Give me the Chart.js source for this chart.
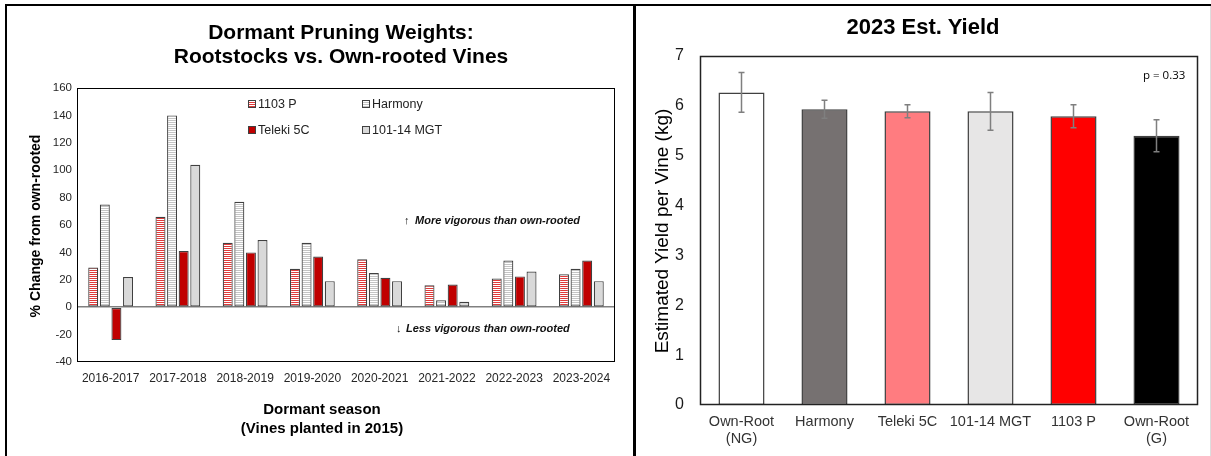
<!DOCTYPE html>
<html>
<head>
<meta charset="utf-8">
<script src="https://cdn.jsdelivr.net/npm/chart.js@4.4.0/dist/chart.umd.min.js"></script>
<style>
  body { margin: 0; background: #fff; font-family: 'Liberation Sans', Arial, sans-serif; }
  #wrap { position: relative; width: 1211px; height: 456px; overflow: hidden; background: #fff; }
  .abs { position: absolute; }
  .line { position: absolute; background: #000; }
  .ttl { position: absolute; text-align: center; font-weight: bold; color: #000; white-space: nowrap; }
  canvas { position: absolute; }
</style>
</head>
<body>
<div id="wrap">
  <div class="line" style="left:5px;top:4px;width:1206px;height:2px"></div>
  <div class="line" style="left:5px;top:4px;width:2px;height:452px"></div>
  <div class="line" style="left:633px;top:4px;width:3px;height:452px"></div>
  <div class="line" style="left:1210px;top:6px;width:1px;height:450px;background:#ddd"></div>

  <canvas id="left" width="626" height="450" style="left:7px;top:6px"></canvas>
  <canvas id="right" width="574" height="450" style="left:636px;top:6px"></canvas>

  <div class="ttl" style="left:141px;top:20px;width:400px;font-size:21px;line-height:24px">Dormant Pruning Weights:<br>Rootstocks vs. Own-rooted Vines</div>
  <div class="ttl" style="left:122px;top:399px;width:400px;font-size:15px;line-height:19px">Dormant season<br>(Vines planted in 2015)</div>
  <div class="ttl" style="left:-115px;top:216px;width:300px;font-size:14px;line-height:20px;transform:rotate(-90deg)">% Change from own-rooted</div>

  <div class="ttl" style="left:723px;top:15px;width:400px;font-size:22px;line-height:24px">2023 Est. Yield</div>
  <div class="ttl" style="left:512px;top:219px;width:300px;font-size:19px;line-height:24px;font-weight:normal;transform:rotate(-90deg)">Estimated Yield per Vine (kg)</div>
  <div class="abs" style="left:1143px;top:67px;font-family:'Open Sans',sans-serif;font-size:11.5px;color:#000">p = 0.33</div>
</div>

<script>
// pruning weights, % change from own-rooted
const seasons = ['2016-2017', '2017-2018', '2018-2019', '2019-2020', '2020-2021', '2021-2022', '2022-2023', '2023-2024'];
const p1103 = [29, 66, 47, 28, 35, 16, 21, 24];
const harmony = [75, 140, 77, 47, 25, 5, 34, 28];
const teleki = [-24, 41, 40, 37, 21.5, 16.5, 22.5, 34];
const mgt = [22, 104, 49, 19, 19, 4, 26, 19];

// 2023 yield
const yieldCats = [['Own-Root', '(NG)'], 'Harmony', 'Teleki 5C', '101-14 MGT', '1103 P', ['Own-Root', '(G)']];
const yieldMeans = [6.27, 5.93, 5.89, 5.89, 5.79, 5.40];
const yieldErr = [0.40, 0.18, 0.13, 0.38, 0.23, 0.32];

const FONT = "'Liberation Sans', Arial, sans-serif";
Chart.defaults.font.family = FONT;
Chart.defaults.animation = false;

var lctx = document.getElementById('left').getContext('2d');

function stripes(color, period) {
  var c = document.createElement('canvas');
  c.width = 4; c.height = period;
  var x = c.getContext('2d');
  x.fillStyle = '#fff'; x.fillRect(0, 0, 4, period);
  x.fillStyle = color; x.fillRect(0, 0, 4, 1);
  return lctx.createPattern(c, 'repeat');
}

var boxPlugin = {
  id: 'box',
  afterDraw: function(chart, args, opts) {
    var a = chart.chartArea, ctx = chart.ctx;
    ctx.save();
    ctx.strokeStyle = opts.color || '#000';
    ctx.lineWidth = opts.width || 1;
    ctx.strokeRect(a.left + 0.5, a.top + 0.5, a.right - a.left - 1, a.bottom - a.top - 1);
    ctx.restore();
  }
};

// legend + notes inside the pruning chart
var noteLegend = {
  id: 'noteLegend',
  afterDraw: function(chart) {
    var ctx = chart.ctx;
    var spots = [[241, 98], [241, 124], [355, 98], [355, 124]];
    var order = [0, 2, 1, 3];
    ctx.save();
    ctx.font = "12.5px " + FONT;
    ctx.textBaseline = 'middle';
    order.forEach(function(di, k) {
      var ds = chart.data.datasets[di];
      var p = spots[k];
      ctx.fillStyle = ds.backgroundColor;
      ctx.fillRect(p[0], p[1] - 4, 8, 8);
      ctx.strokeStyle = '#404040';
      ctx.lineWidth = 1;
      ctx.strokeRect(p[0] + 0.5, p[1] - 3.5, 7, 7);
      ctx.fillStyle = '#222';
      ctx.fillText(ds.label, p[0] + 10, p[1] + 1);
    });
    var y = chart.scales.y;
    ctx.font = "bold italic 11px " + FONT;
    ctx.fillStyle = '#111';
    ctx.fillText('\u2191', 397, y.getPixelForValue(63));
    ctx.fillText('More vigorous than own-rooted', 408, y.getPixelForValue(63));
    ctx.fillText('\u2193', 389, y.getPixelForValue(-16));
    ctx.fillText('Less vigorous than own-rooted', 399, y.getPixelForValue(-16));
    ctx.restore();
  }
};

new Chart(lctx, {
  type: 'bar',
  data: {
    labels: seasons,
    datasets: [
      { label: '1103 P', data: p1103, backgroundColor: stripes('#e03a3a', 2) },
      { label: 'Harmony', data: harmony, backgroundColor: stripes('#c4c4c4', 2) },
      { label: 'Teleki 5C', data: teleki, backgroundColor: '#c00000' },
      { label: '101-14 MGT', data: mgt, backgroundColor: '#d9d9d9' }
    ].map(function(d) {
      d.borderColor = '#404040';
      d.borderWidth = 1.2;
      d.borderSkipped = false;
      d.categoryPercentage = 0.69;
      d.barPercentage = 0.86;
      return d;
    })
  },
  options: {
    responsive: false,
    layout: { padding: { top: 82, right: 18, left: 0, bottom: 0 } },
    plugins: { legend: { display: false }, tooltip: { enabled: false }, box: { color: '#000', width: 1 } },
    scales: {
      x: {
        grid: { display: false, drawTicks: false },
        border: { display: false },
        ticks: { color: '#262626', font: { size: 12 }, padding: 9, maxRotation: 0, autoSkip: false },
        afterFit: function(s) { s.height = 94; }
      },
      y: {
        min: -40, max: 160,
        grid: {
          drawTicks: false,
          lineWidth: 1.5,
          color: function(c) { return c.tick && c.tick.value === 0 ? '#808080' : 'rgba(0,0,0,0)'; }
        },
        border: { display: false },
        ticks: { stepSize: 20, color: '#262626', font: { size: 11.5 }, padding: 5 },
        afterFit: function(s) { s.width = 70; }
      }
    }
  },
  plugins: [boxPlugin, noteLegend]
});

var errPlugin = {
  id: 'errBars',
  afterDatasetsDraw: function(chart) {
    var meta = chart.getDatasetMeta(0), y = chart.scales.y, ctx = chart.ctx;
    ctx.save();
    ctx.strokeStyle = '#7f7f7f';
    ctx.lineWidth = 1.5;
    meta.data.forEach(function(bar, i) {
      var hi = y.getPixelForValue(yieldMeans[i] + yieldErr[i]);
      var lo = y.getPixelForValue(yieldMeans[i] - yieldErr[i]);
      ctx.beginPath();
      ctx.moveTo(bar.x, hi); ctx.lineTo(bar.x, lo);
      ctx.moveTo(bar.x - 3, hi); ctx.lineTo(bar.x + 3, hi);
      ctx.moveTo(bar.x - 3, lo); ctx.lineTo(bar.x + 3, lo);
      ctx.stroke();
    });
    ctx.restore();
  }
};

new Chart(document.getElementById('right'), {
  type: 'bar',
  data: {
    labels: yieldCats,
    datasets: [{
      data: yieldMeans,
      backgroundColor: ['#ffffff', '#767171', '#ff7c80', '#e7e6e6', '#ff0000', '#000000'],
      borderColor: '#404040',
      borderWidth: 1.5,
      borderSkipped: false,
      categoryPercentage: 1,
      barPercentage: 0.555
    }]
  },
  options: {
    responsive: false,
    layout: { padding: { top: 50, right: 12, left: 0, bottom: 0 } },
    plugins: { legend: { display: false }, tooltip: { enabled: false }, box: { color: '#222', width: 1.5 } },
    scales: {
      x: {
        grid: { display: false, drawTicks: false },
        border: { display: false },
        ticks: { color: '#333', font: { size: 14.5, lineHeight: 1.17 }, padding: 9, maxRotation: 0, autoSkip: false },
        afterFit: function(s) { s.height = 51; }
      },
      y: {
        min: 0, max: 7,
        grid: { display: false, drawTicks: false },
        border: { display: false },
        ticks: { stepSize: 1, color: '#1a1a1a', font: { size: 16 }, padding: 16 },
        afterFit: function(s) { s.width = 64; }
      }
    }
  },
  plugins: [boxPlugin, errPlugin]
});
</script>
</body>
</html>
